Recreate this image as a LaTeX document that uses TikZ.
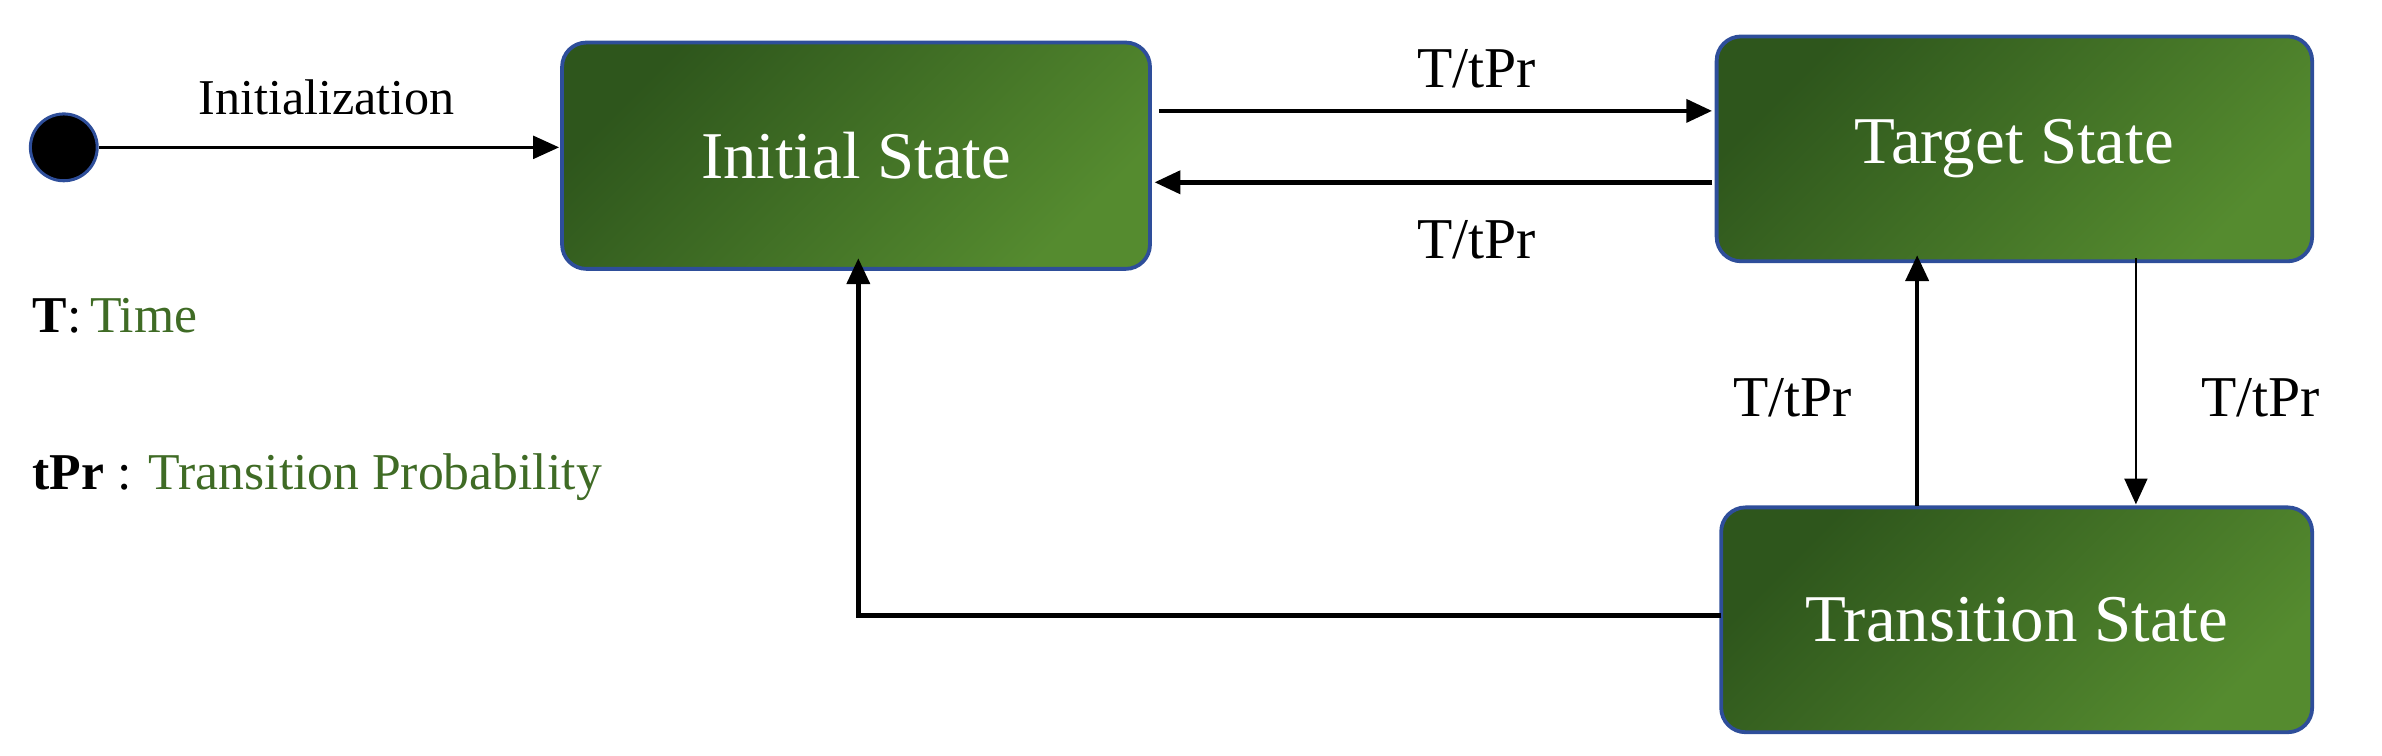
\documentclass[tikz,border=0pt]{standalone}
\usepackage{fontspec}
\setmainfont{Liberation Serif}
\usetikzlibrary{arrows.meta}
\definecolor{gdark}{HTML}{2E561C}
\definecolor{glight}{HTML}{558B2F}
\definecolor{bord}{HTML}{2E4E9A}
\definecolor{legg}{HTML}{3F6B25}
\begin{document}
\begin{tikzpicture}[x=1pt,y=-1pt,
  st/.style={draw=bord,line width=2.5pt,rounded corners=16pt,left color=gdark,right color=glight,shading angle=45,text=white,font=\fontsize{44}{46}\selectfont,inner sep=0pt},
  lab/.style={font=\fontsize{38}{40}\selectfont},
  thick arr/.style={line width=3pt,-{Triangle[length=17pt,width=15pt]}},
  thin arr/.style={line width=1.8pt,-{Triangle[length=17pt,width=15pt]}}]
\useasboundingbox (0,0) rectangle (1568,497);
\node[st,minimum width=387pt,minimum height=149pt] (is) at (563.5,102.5) {Initial State};
\node[st,minimum width=392pt,minimum height=148pt] (ts) at (1326,98) {Target State};
\node[st,minimum width=389pt,minimum height=148pt] (tr) at (1327.5,408) {Transition State};
\node[circle,fill=black,draw=bord,line width=2pt,minimum size=44pt,inner sep=0pt] (c) at (42,97) {};
\coordinate (a1) at (368,97);
\draw[thin arr] (c) -- (a1);
\node[font=\fontsize{33}{35}\selectfont] (li) at (215,64) {Initialization};
\coordinate (t1s) at (763,73); \coordinate (t1e) at (1127,73);
\draw[thick arr] (t1s) -- (t1e);
\node[lab] (l1) at (972,45) {T/tPr};
\coordinate (t2s) at (1127,120); \coordinate (t2e) at (760,120);
\draw[thick arr] (t2s) -- (t2e);
\node[lab] (l2) at (972,158) {T/tPr};
\coordinate (u1) at (1262,333); \coordinate (u2) at (1262,168);
\draw[thick arr] (u1) -- (u2);
\node[lab] (l3) at (1180,262) {T/tPr};
\coordinate (d1) at (1406,170); \coordinate (d2) at (1406,332);
\draw[thin arr] (d1) -- (d2);
\node[lab] (l4) at (1488,262) {T/tPr};
\coordinate (b1) at (1133,405); \coordinate (b2) at (565,405); \coordinate (b3) at (565,170);
\draw[thick arr] (b1) -- (b2) -- (b3);
\node[anchor=west,font=\fontsize{34}{36}\selectfont] (lg1) at (18,208) {\textbf{T}:\,\textcolor{legg}{Time}};
\node[anchor=west,font=\fontsize{34}{36}\selectfont] (lg2) at (18,314) {\textbf{tPr} : \textcolor{legg}{Transition Probability}};
\end{tikzpicture}
\end{document}
